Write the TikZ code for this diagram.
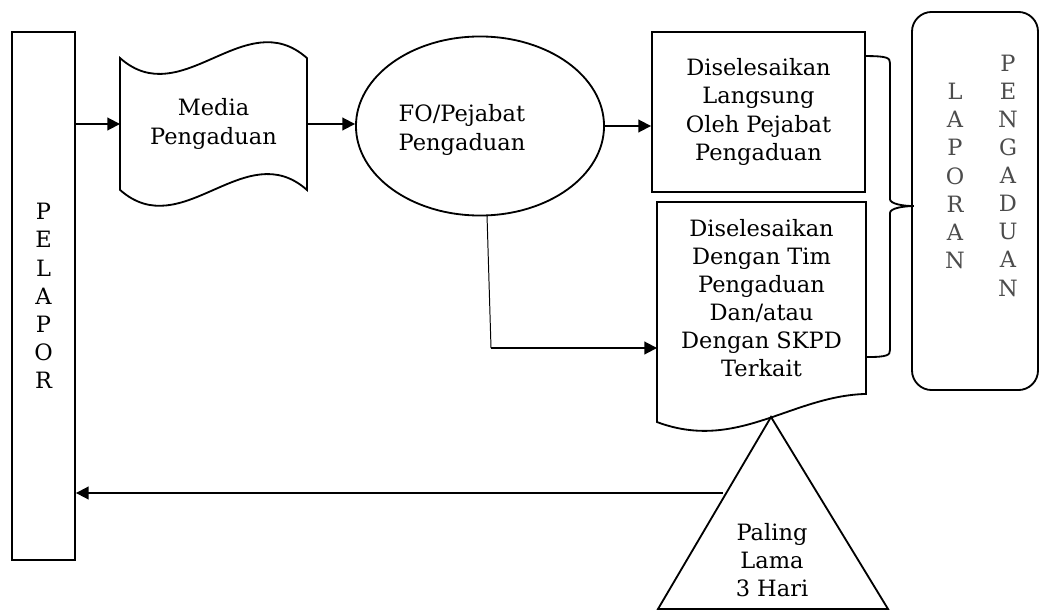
\documentclass[tikz,border=0pt]{standalone}
\usepackage{fontspec}
\setmainfont{DejaVu Serif}
\usetikzlibrary{arrows.meta}
\usetikzlibrary{shapes.geometric,calc}

\begin{document}
\begin{tikzpicture}[x=0.025cm, y=-0.025cm, line width=1.3pt,
txt/.style={font=\fontsize{16}{20}\selectfont, align=center, inner sep=0pt},
box/.style={draw, txt},
arr/.style={-{Triangle[length=9pt, width=9pt]}},
letters/.style={txt, text=black!70},
]
\useasboundingbox (0,0) rectangle (1039,610);
% nodes
\node[box, minimum width=1.575cm, minimum height=13.2cm] (pelapor) at (43.5,296) {P\\E\\L\\A\\P\\O\\R};
\node[txt, minimum width=4.625cm, minimum height=3.25cm] (media) at (213.5,124) {Media\\Pengaduan};
\node[draw, ellipse, minimum width=6.2cm, minimum height=4.475cm] (fo) at (480,126) {};
\node[txt, align=left] (fotext) at (462,130) {FO/Pejabat\\Pengaduan};
\node[box, minimum width=5.325cm, minimum height=4cm] (b1) at (758.5,112) {Diselesaikan\\Langsung\\Oleh Pejabat\\Pengaduan};
\node[txt, minimum width=5.175cm, minimum height=4.75cm] (tim) at (761.5,298) {Diselesaikan\\Dengan Tim\\Pengaduan\\Dan/atau\\Dengan SKPD\\Terkait};
\node[draw, rounded corners=14pt, minimum width=3.15cm, minimum height=9.45cm] (lap) at (975,201) {};
\node[letters] (lapA) at (955,176) {L\\A\\P\\O\\R\\A\\N};
\node[letters] (lapB) at (1008,175.5) {P\\E\\N\\G\\A\\D\\U\\A\\N};
\node[txt] (hari) at (772,560) {Paling\\Lama\\3 Hari};
% shapes
\draw (media.north west) .. controls +(62,55) and +(-62,-55) .. (media.north east)
  -- (media.south east) .. controls +(-62,-55) and +(62,55) .. (media.south west) -- cycle;
\draw (tim.north west) -- ++(0,220) .. controls +(80,30) and +(-75,2) .. (tim.south east)
  -- (tim.north east) -- cycle;
\coordinate (apex) at (771,417);
\draw (apex) -- (888,609) -- (658,609) -- cycle;
% brace
\draw ($(b1.north east)+(0,25)$) .. controls +(22,0) and +(0,-5) .. ++(24,7) -- ++(0,136)
  .. controls +(0,5) and +(-10,0) .. ++(24,7) .. controls +(-10,0) and +(0,-5) .. ++(-24,7)
  -- ++(0,137) .. controls +(0,5) and +(22,0) .. ++(-24,7);
% connectors
\draw[arr] (pelapor.east |- media.west) -- (media.west);
\draw[arr] (media.east) -- (media.east -| fo.west);
\draw[arr] (fo.east) -- (fo.east -| b1.west);
\coordinate (drop) at (487,215);
\coordinate (turn) at (491,348);
\draw[line width=0.7pt] (drop) -- (turn);
\draw[arr] (turn) -- (turn -| tim.west);
\coordinate (back) at (723,493);
\draw[arr] (back) -- (back -| pelapor.east);
\end{tikzpicture}
\end{document}
